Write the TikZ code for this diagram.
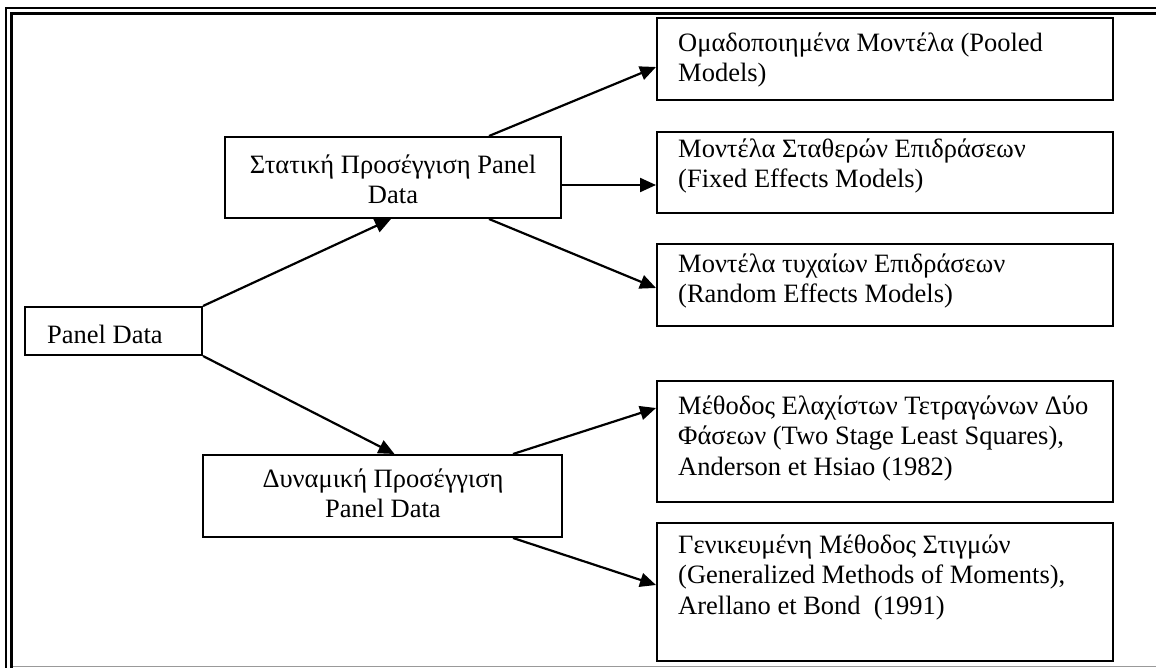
\documentclass[tikz,border=0pt]{standalone}
\usepackage{fontspec}
\setmainfont{Liberation Serif}
\usetikzlibrary{arrows.meta,calc}
\newcommand\fsz{\fontsize{26.5}{30.5}\selectfont}
\newcommand\fl{\rule{0pt}{21pt}}
\begin{document}
\begin{tikzpicture}[x=1pt,y=-1pt,
  box/.style={draw,line width=2pt,inner sep=0pt,rectangle},
  txt/.style={inner sep=0pt,font=\fsz},
  ltxt/.style={txt,align=left,anchor=north west},
  ctxt/.style={txt,align=center,anchor=north},
  arr/.style={line width=2.2pt,-{Triangle[length=16pt,width=14pt]}},
  frameout/.style={line width=2pt},
  framein/.style={line width=3pt}]
\useasboundingbox (0,0) rectangle (1156,668);
% frame
\draw[frameout] (6,668) -- (6,8) -- (1156,8);
\draw[framein] (11.5,668) -- (11.5,13.5) -- (1156,13.5);
\draw[line width=1.5pt,black!40] (13,666.5) -- (1156,666.5);
% boxes
\node[box,minimum width=177pt,minimum height=48pt] (pd) at (113.5,331) {};
\node[box,minimum width=336pt,minimum height=81pt] (st) at (393,177.5) {};
\node[box,minimum width=359pt,minimum height=82pt] (dy) at (382.5,496) {};
\node[box,minimum width=456pt,minimum height=82pt] (m1) at (885,59) {};
\node[box,minimum width=456pt,minimum height=81pt] (m2) at (885,172.5) {};
\node[box,minimum width=456pt,minimum height=82pt] (m3) at (885,285) {};
\node[box,minimum width=456pt,minimum height=121pt] (m4) at (885,441.5) {};
\node[box,minimum width=456pt,minimum height=138pt] (m5) at (885,592) {};
% texts
\node[ltxt] (tpd) at (47,322) {\fl Panel Data};
\node[ctxt] (tst) at (393,152) {\fl Στατική Προσέγγιση Panel\\Data};
\node[ctxt] (tdy) at (383,466) {\fl Δυναμική Προσέγγιση\\Panel Data};
\node[ltxt] (tm1) at (678,30) {\fl Ομαδοποιημένα Μοντέλα (Pooled\\Models)};
\node[ltxt] (tm2) at (678,136) {\fl Μοντέλα Σταθερών Επιδράσεων\\(Fixed Effects Models)};
\node[ltxt] (tm3) at (678,251) {\fl Μοντέλα τυχαίων Επιδράσεων\\(Random Effects Models)};
\node[ltxt] (tm4) at (678,393) {\fl Μέθοδος Ελαχίστων Τετραγώνων Δύο\\Φάσεων (Two Stage Least Squares),\\Anderson et Hsiao (1982)};
\node[ltxt] (tm5) at (678,532) {\fl Γενικευμένη Μέθοδος Στιγμών\\(Generalized Methods of Moments),\\Arellano et Bond\ \ (1991)};
% connectors
\draw[arr] (pd.north east) -- ($(st.south)+(-2,0)$);
\draw[arr] (pd.south east) -- ($(dy.north)+(12,0)$);
\draw[arr] ($(st.north)+(96,0)$) -- ($(m1.west)+(0,8)$);
\coordinate (h) at ($(st.east)+(0,7.5)$);
\draw[arr] (h) -- (h -| m2.west);
\draw[arr] ($(st.south)+(96,0)$) -- ($(m3.west)+(0,3)$);
\draw[arr] ($(dy.north)+(130.5,0)$) -- ($(m4.west)+(0,-33.5)$);
\draw[arr] ($(dy.south)+(130.5,0)$) -- ($(m5.west)+(0,-7)$);
\end{tikzpicture}
\end{document}
